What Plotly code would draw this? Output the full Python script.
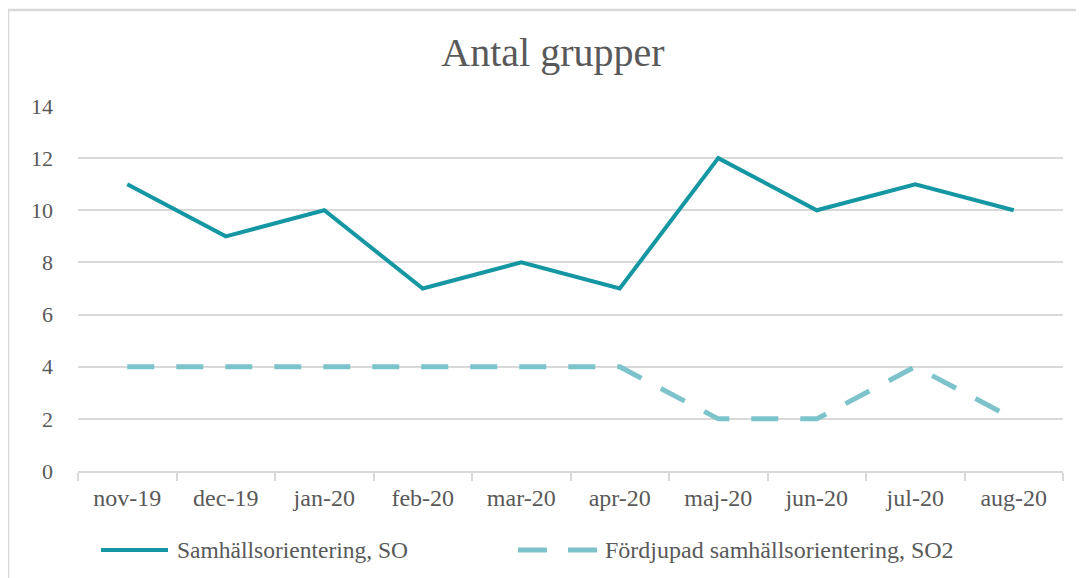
import plotly.graph_objects as go

months = ["nov-19", "dec-19", "jan-20", "feb-20", "mar-20", "apr-20", "maj-20", "jun-20", "jul-20", "aug-20"]
so = [11, 9, 10, 7, 8, 7, 12, 10, 11, 10]
so2 = [4, 4, 4, 4, 4, 4, 2, 2, 4, 2]
y_ticks = [0, 2, 4, 6, 8, 10, 12, 14]
names = ["Samhällsorientering, SO", "Fördjupad samhällsorientering, SO2"]

FONT = "Liberation Serif"
TXT = "#595959"
GRID = "#D9D9D9"
C1 = "#1497A2"
C2 = "#7DC3CC"
DASH = "27px,22px"

# page offset (body margin) of the rendered html
OFF = 8
W, H = 1084, 578
L, R, T, B = 70, 29, 98, 115
PW = W - L - R
PH = H - T - B


def xp(sx):
    return (sx - OFF - L) / PW


def yp(sy):
    return (H - B - (sy - OFF)) / PH


fig = go.Figure()
fig.add_trace(go.Scatter(x=months, y=so, mode="lines", name=names[0],
                         line=dict(color=C1, width=4)))
fig.add_trace(go.Scatter(x=months, y=so2, mode="lines", name=names[1],
                         line=dict(color=C2, width=5, dash=DASH)))

shapes = [
    dict(type="rect", xref="paper", yref="paper", x0=xp(8), x1=1.2,
         y0=-0.5, y1=yp(10), line=dict(color=GRID, width=2.5),
         fillcolor="rgba(0,0,0,0)", layer="below"),
    dict(type="line", xref="paper", yref="paper", x0=xp(101), x1=xp(168), y0=yp(550), y1=yp(550),
         line=dict(color=C1, width=4)),
    dict(type="line", xref="paper", yref="paper", x0=xp(518), x1=xp(598), y0=yp(550), y1=yp(550),
         line=dict(color=C2, width=5, dash="29px,21px")),
]
annotations = [
    dict(text=names[0], xref="paper", yref="paper", x=xp(175), y=yp(550), xanchor="left",
         yanchor="middle", showarrow=False, font=dict(family=FONT, size=23.5, color=TXT)),
    dict(text=names[1], xref="paper", yref="paper", x=xp(603), y=yp(550), xanchor="left",
         yanchor="middle", showarrow=False, font=dict(family=FONT, size=24, color=TXT)),
]

fig.update_layout(
    width=W, height=H,
    margin=dict(l=L, r=R, t=T, b=B),
    paper_bgcolor="white", plot_bgcolor="white",
    title=dict(text="Antal grupper", x=(553 - OFF) / W, xanchor="center", y=1 - (52 - OFF) / H,
               yanchor="middle", yref="container", font=dict(family=FONT, size=40, color=TXT)),
    showlegend=False,
    xaxis=dict(range=[-0.5, len(months) - 0.5], showgrid=False, showline=True, linecolor=GRID,
               linewidth=1.5, ticks="outside", tickson="boundaries", ticklen=8, tickcolor=GRID,
               tickwidth=1.5, tickfont=dict(family=FONT, size=24, color=TXT), ticklabelstandoff=4),
    yaxis=dict(range=[0, 14], tickvals=y_ticks, showgrid=True, gridcolor=GRID, gridwidth=1.5,
               zeroline=False, showline=False, ticks="",
               tickfont=dict(family=FONT, size=22, color=TXT), ticklabelstandoff=24),
    shapes=shapes,
    annotations=annotations,
)

fig.write_html("out.html")
